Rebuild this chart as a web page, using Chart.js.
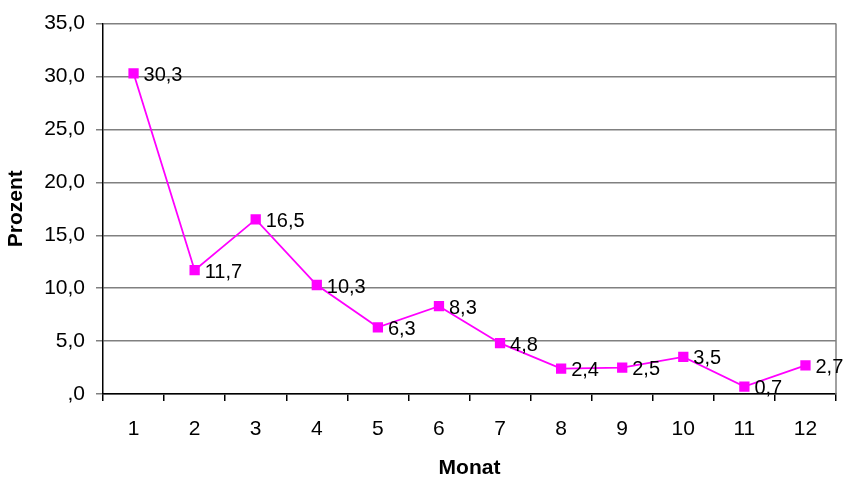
<!DOCTYPE html>
<html><head><meta charset="utf-8">
<script src="https://cdn.jsdelivr.net/npm/chart.js@4/dist/chart.umd.min.js"></script>
<style>html,body{margin:0;padding:0;background:#fff}#wrap{width:848px;height:479px}</style>
</head><body><div id="wrap"><canvas id="c"></canvas></div>
<script>
const months = ['1','2','3','4','5','6','7','8','9','10','11','12'];
const percent = [30.3, 11.7, 16.5, 10.3, 6.3, 8.3, 4.8, 2.4, 2.5, 3.5, 0.7, 2.7];
const yTitle = 'Prozent';
const xTitle = 'Monat';
const fmt = v => v === 0 ? ',0' : v.toFixed(1).replace('.', ',');
const FF = '"Liberation Sans", Arial, sans-serif';

const labelPlugin = {
  id: 'labels',
  afterDatasetsDraw(chart) {
    const ctx = chart.ctx;
    const meta = chart.getDatasetMeta(0);
    ctx.save();
    ctx.font = '20px ' + FF;
    ctx.fillStyle = '#000';
    ctx.textAlign = 'left';
    ctx.textBaseline = 'middle';
    meta.data.forEach((p, i) => {
      ctx.fillText(fmt(percent[i]), p.x + 10, p.y + 2);
    });
    ctx.restore();
  },
  beforeDatasetsDraw(chart) {
    const {ctx, chartArea: a} = chart;
    ctx.save();
    ctx.strokeStyle = '#808080';
    ctx.lineWidth = 1.5;
    ctx.beginPath();
    ctx.moveTo(a.right, a.top);
    ctx.lineTo(a.right, a.bottom);
    ctx.stroke();
    ctx.restore();
  }
};

new Chart(document.getElementById('c'), {
  type: 'line',
  data: {
    labels: months,
    datasets: [{
      data: percent,
      borderColor: '#FF00FF',
      backgroundColor: '#FF00FF',
      borderWidth: 1.8,
      pointStyle: 'rect',
      pointRadius: 6,
      pointHoverRadius: 6,
      tension: 0
    }]
  },
  options: {
    responsive: true,
    maintainAspectRatio: false,
    animation: false,
    layout: {padding: {top: 16, right: 12, left: 0, bottom: 0}},
    plugins: {legend: {display: false}, tooltip: {enabled: false}},
    scales: {
      x: {
        offset: true,
        grid: {offset: true, drawOnChartArea: false, tickLength: 7, color: '#000', lineWidth: 1.5},
        border: {color: '#000', width: 1.5},
        ticks: {color: '#000', padding: 16, font: {family: FF, size: 21}, maxRotation: 0, autoSkip: false},
        title: {display: true, text: xTitle, color: '#000', padding: {top: 0, bottom: 0}, font: {family: FF, size: 21, weight: 'bold', lineHeight: 1.0}},
        afterFit(s) { s.height = 85; }
      },
      y: {
        min: 0, max: 35,
        ticks: {stepSize: 5, color: '#000', padding: 11, callback: v => fmt(v), font: {family: FF, size: 21}},
        grid: {color: '#808080', lineWidth: 1.5, tickLength: 7},
        border: {color: '#000', width: 1.5},
        title: {display: true, text: yTitle, color: '#000', padding: {top: 6, bottom: 4}, font: {family: FF, size: 21, weight: 'bold', lineHeight: 1.0}},
        afterFit(s) { s.width = 103; }
      }
    }
  },
  plugins: [labelPlugin]
});
</script></body></html>
